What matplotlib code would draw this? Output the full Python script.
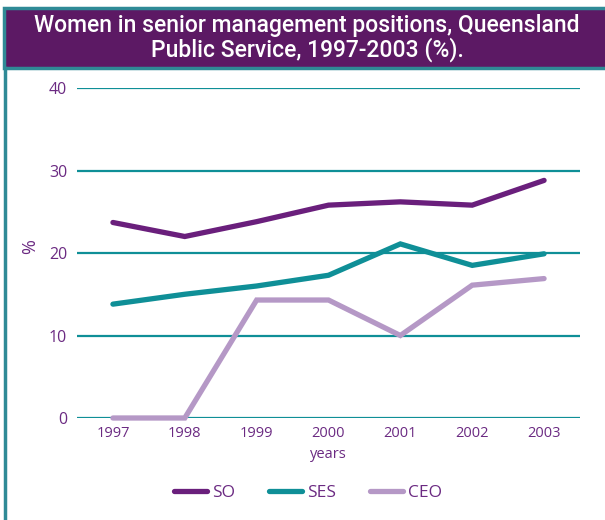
import matplotlib
matplotlib.use("Agg")
import matplotlib.pyplot as plt
from matplotlib.patches import Rectangle
from matplotlib.lines import Line2D

years = [1997, 1998, 1999, 2000, 2001, 2002, 2003]
so = [23.7, 22.0, 23.8, 25.8, 26.2, 25.8, 28.8]
ses = [13.8, 15.0, 16.0, 17.3, 21.1, 18.5, 19.9]
ceo = [0.0, 0.0, 14.3, 14.3, 10.0, 16.1, 16.9]
yticks = [0, 10, 20, 30, 40]
series_names = ["SO", "SES", "CEO"]

purple = "#6a1f7c"
teal = "#0f8f97"
lilac = "#b598c6"
title_bg = "#5c1964"
border = "#2f8a96"
text_c = "#6b2a82"

plt.rcParams['font.family'] = ['Open Sans', 'DejaVu Sans']

W, H = 605, 520
fig = plt.figure(figsize=(W / 100, H / 100), dpi=100)

ax = fig.add_axes([77 / W, 1 - 418 / H, (580 - 77) / W, (418 - 88) / H])
ax.set_xlim(1996.5, 2003.5)
ax.set_ylim(0, 40)
for s in ax.spines.values():
    s.set_visible(False)
ax.set_yticks(yticks)
ax.set_xticks(years)
ax.tick_params(length=0, colors=text_c, labelsize=11.5)
ax.tick_params(axis='y', pad=7)
ax.tick_params(axis='x', pad=6, labelsize=10.5)
ax.yaxis.grid(True, color=teal, linewidth=1.6)
ax.set_axisbelow(True)

kw = dict(linewidth=3.8, solid_capstyle='round', solid_joinstyle='miter', clip_on=False)
ax.plot(years, so, color=purple, **kw)
ax.plot(years, ses, color=teal, **kw)
ax.plot(years, ceo, color=lilac, **kw)

ax.set_xlabel("years", color=text_c, fontsize=10.5, labelpad=4)
fig.text(30 / W, 1 - 247 / H, "%", rotation=90, ha='center', va='center',
         color=text_c, fontsize=13)

handles = [Line2D([], [], color=c, linewidth=3.8, solid_capstyle='round')
           for c in (purple, teal, lilac)]
leg = fig.legend(handles, series_names, loc='center', bbox_to_anchor=(308 / W, 1 - 493 / H),
                 ncol=3, frameon=False, fontsize=12.5, handlelength=1.9,
                 handletextpad=0.25, columnspacing=2.0, labelcolor=text_c)

# title box
fig.patches.append(Rectangle((4 / W, 1 - 68 / H), 1.0, 60 / H, transform=fig.transFigure,
                             facecolor=title_bg, edgecolor=border, linewidth=2.5))
fig.text(307 / W, 1 - 38 / H, "Women in senior management positions, Queensland\nPublic Service, 1997-2003 (%).",
         ha='center', va='center', color='white', fontsize=16.5, fontweight='medium',
         linespacing=0.98, family=['Roboto', 'DejaVu Sans'])
fig.lines.append(Line2D([5 / W, 5 / W], [0, 1 - 68 / H], transform=fig.transFigure,
                        color=border, linewidth=2.5))

fig.savefig("out.png", dpi=100)
